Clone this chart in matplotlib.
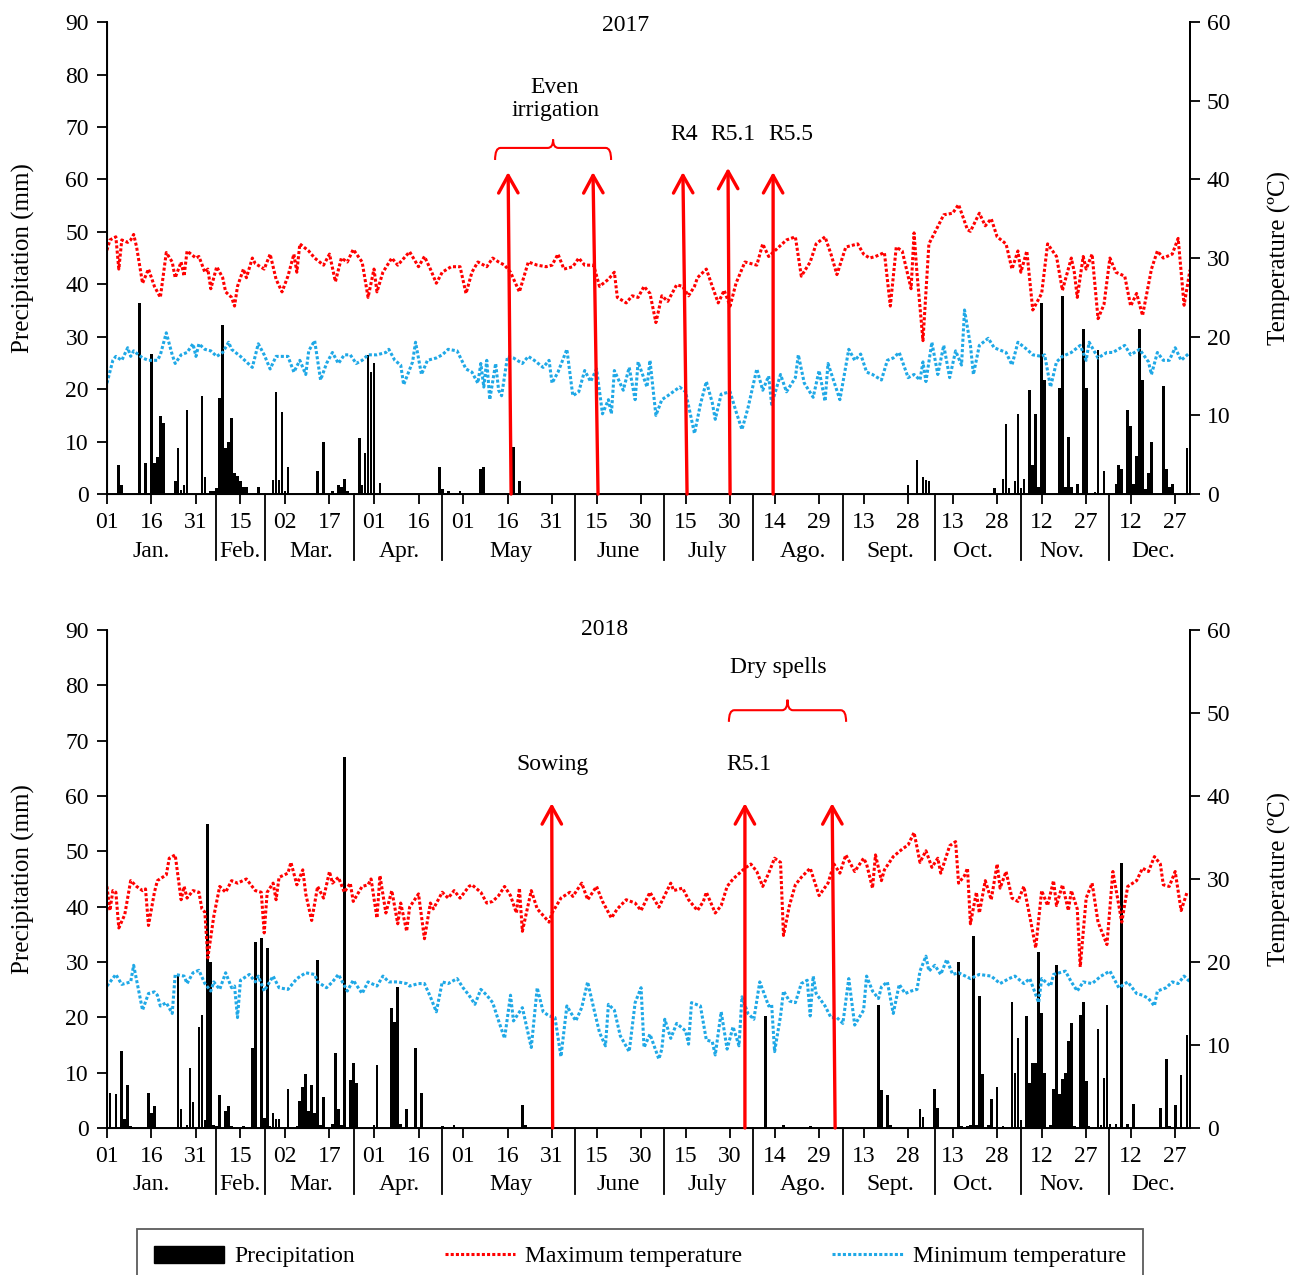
import numpy as np
import matplotlib.pyplot as plt
from matplotlib.path import Path
from matplotlib.patches import PathPatch, Patch
from matplotlib.lines import Line2D

plt.rcParams['font.family'] = ['Liberation Serif', 'DejaVu Serif']
plt.rcParams['font.size'] = 17

# x axis: day of year
tick_pos = np.arange(1, 366, 15)
tick_lab = ['01', '16', '31', '15', '02', '17', '01', '16', '01', '16', '31', '15', '30',
            '15', '30', '14', '29', '13', '28', '13', '28', '12', '27', '12', '27']
month_sep = [37.7, 54.2, 84.4, 113.8, 158.9, 188.8, 218.7, 248.9, 280.1, 309.0, 338.6]
month_pos = [16, 45.8, 69.8, 99.4, 137.2, 173.2, 203.2, 235.6, 264.9, 292.9, 322.9, 353.5]
month_lab = ['Jan.', 'Feb.', 'Mar.', 'Apr.', 'May', 'June', 'July', 'Ago.', 'Sept.',
             'Oct.', 'Nov.', 'Dec.']

# ---- 2017 ----  (day of year, value)
rain17 = [(5, 5.6), (6, 1.7), (12, 36.5), (14, 5.9), (16, 26.8), (17, 5.9), (18, 7.1),
          (19, 14.9), (20, 13.6), (24, 2.5), (25, 8.7), (26, 0.7), (27, 1.7), (28, 16.0),
          (33, 18.7), (34, 3.3), (36, 0.5), (37, 0.5), (38, 1.2), (39, 18.3), (40, 32.2),
          (41, 8.7), (42, 9.9), (43, 14.5), (44, 4.1), (45, 3.4), (46, 2.5), (47, 1.4),
          (48, 1.4), (52, 1.4), (57, 2.6), (58, 19.4), (59, 2.6), (60, 15.7), (61, 0.5),
          (62, 5.1), (72, 4.4), (74, 9.9), (77, 0.5), (79, 1.7), (80, 1.4), (81, 2.9),
          (82, 0.5), (86, 10.6), (87, 1.7), (88, 7.8), (89, 26.6), (90, 23.3), (91, 24.9),
          (93, 2.2), (113, 5.1), (114, 0.9), (116, 0.5), (120, 0.5), (127, 4.8), (128, 5.1),
          (138, 9.0), (140, 2.4), (271, 1.7), (274, 6.5), (276, 3.2), (277, 2.6), (278, 2.4),
          (300, 1.2), (303, 2.9), (304, 13.3), (305, 1.2), (307, 2.4), (308, 15.2),
          (309, 1.2), (310, 2.9), (312, 19.9), (313, 5.6), (314, 15.2), (315, 1.4),
          (316, 36.5), (317, 21.8), (322, 20.2), (323, 37.8), (324, 1.4), (325, 10.9),
          (326, 1.4), (328, 1.9), (330, 31.5), (331, 20.3), (334, 0.4), (335, 27.5),
          (337, 4.4), (341, 1.9), (342, 5.6), (343, 4.8), (345, 16.0), (346, 13.0),
          (347, 2.0), (348, 7.2), (349, 31.5), (350, 21.8), (351, 0.9), (352, 4.1),
          (353, 9.9), (357, 20.6), (358, 4.8), (359, 1.4), (360, 1.9), (365, 8.7)]

tmax17 = [(1, 31.0), (2, 32.3), (4, 32.7), (5, 28.6), (6, 32.3), (8, 32.0), (9, 32.3),
          (10, 33.0), (11, 31.4), (13, 26.8), (15, 28.6), (17, 26.4), (19, 25.0), (21, 30.7),
          (23, 29.5), (24, 27.5), (26, 29.5), (27, 27.7), (28, 30.9), (31, 30.0), (32, 30.2),
          (34, 28.2), (35, 28.6), (36, 26.1), (38, 28.9), (40, 27.5), (41, 25.7), (43, 25.0),
          (44, 23.9), (45, 26.4), (47, 28.6), (48, 27.5), (50, 30.0), (51, 29.3), (54, 28.6),
          (56, 30.5), (58, 27.3), (60, 25.7), (62, 27.7), (64, 30.5), (65, 28.2), (66, 31.8),
          (69, 30.9), (71, 30.0), (74, 29.1), (76, 30.5), (78, 27.0), (80, 30.0), (82, 29.5),
          (84, 31.1), (87, 29.5), (89, 25.0), (91, 28.6), (92, 25.7), (94, 28.2), (97, 30.0),
          (99, 29.1), (103, 30.8), (106, 28.9), (108, 30.2), (110, 28.6), (112, 26.8),
          (114, 28.2), (117, 28.9), (120, 28.9), (122, 25.5), (124, 28.2), (126, 29.5),
          (129, 28.9), (131, 30.0), (133, 29.5), (135, 29.1), (137, 28.2), (140, 25.7),
          (143, 29.5), (146, 29.1), (149, 28.9), (151, 29.1), (153, 30.5), (155, 28.6),
          (158, 28.9), (160, 30.0), (162, 29.1), (165, 29.1), (167, 26.4), (170, 27.3),
          (172, 28.2), (173, 25.0), (176, 24.3), (178, 25.2), (180, 25.0), (182, 26.4),
          (184, 25.5), (186, 21.8), (188, 25.2), (190, 24.5), (193, 26.6), (195, 26.4),
          (197, 25.2), (199, 26.4), (200, 27.5), (203, 28.6), (205, 26.4), (207, 24.3),
          (209, 25.9), (211, 23.9), (213, 26.8), (216, 29.5), (220, 29.1), (222, 31.8),
          (224, 30.2), (228, 31.6), (230, 32.3), (233, 32.7), (235, 27.7), (238, 29.5),
          (240, 31.8), (243, 32.7), (245, 30.5), (247, 27.9), (250, 31.4), (254, 31.8),
          (256, 30.5), (258, 30.0), (260, 30.2), (263, 30.7), (265, 23.9), (267, 31.4),
          (269, 30.9), (272, 26.1), (273, 33.2), (274, 28.0), (276, 19.5), (278, 31.8),
          (281, 34.0), (283, 35.5), (286, 35.7), (288, 36.8), (291, 33.6), (292, 33.4),
          (295, 35.7), (297, 34.1), (299, 35.0), (301, 32.7), (304, 31.8), (306, 28.6),
          (308, 30.9), (309, 28.2), (311, 30.9), (313, 23.4), (316, 25.5), (318, 31.8),
          (321, 30.2), (323, 25.9), (326, 30.0), (327, 28.2), (328, 25.0), (330, 30.2),
          (331, 28.6), (333, 30.5), (335, 22.3), (337, 24.1), (339, 30.0), (341, 28.2),
          (344, 27.7), (346, 23.9), (348, 25.5), (350, 22.7), (353, 28.6), (355, 30.9),
          (357, 30.0), (360, 30.5), (362, 32.5), (364, 24.0), (366, 28.5)]

tmin17 = [(1, 14.1), (3, 17.0), (4, 17.5), (6, 17.0), (8, 18.6), (9, 17.5), (10, 18.2),
          (13, 17.3), (15, 17.0), (18, 17.0), (19, 17.7), (21, 20.5), (23, 17.7), (24, 16.6),
          (26, 17.7), (28, 18.0), (30, 19.1), (31, 17.5), (32, 19.1), (34, 18.4), (36, 18.2),
          (38, 17.5), (40, 18.0), (42, 19.3), (43, 18.4), (46, 17.5), (48, 16.8), (50, 16.1),
          (52, 19.1), (54, 17.7), (56, 15.9), (58, 17.5), (60, 17.5), (62, 17.5), (64, 15.5),
          (66, 17.0), (68, 15.2), (69, 18.2), (71, 19.5), (73, 14.5), (75, 16.6), (77, 18.0),
          (79, 16.6), (81, 17.7), (83, 17.7), (85, 16.6), (87, 17.0), (89, 17.7), (92, 17.7),
          (95, 18.0), (96, 18.4), (98, 17.0), (100, 16.4), (101, 13.9), (104, 16.8),
          (105, 19.3), (107, 15.2), (109, 17.0), (112, 17.3), (114, 17.7), (116, 18.4),
          (119, 18.2), (122, 15.9), (124, 15.5), (126, 14.1), (127, 16.6), (128, 13.6),
          (129, 17.0), (130, 12.0), (132, 16.6), (133, 13.2), (134, 12.5), (136, 17.5),
          (138, 17.3), (141, 16.6), (143, 17.5), (145, 17.0), (148, 16.1), (150, 17.0),
          (151, 14.1), (153, 15.5), (156, 18.4), (158, 12.5), (160, 13.0), (162, 15.7),
          (164, 14.3), (166, 15.9), (168, 10.2), (170, 12.0), (171, 10.2), (172, 15.7),
          (175, 13.2), (177, 16.1), (179, 12.0), (180, 16.8), (183, 13.6), (184, 17.0),
          (186, 10.0), (188, 12.0), (190, 12.5), (194, 13.6), (196, 13.0), (199, 7.7),
          (201, 11.4), (203, 14.3), (205, 11.6), (206, 9.5), (208, 12.7), (211, 13.0),
          (213, 10.5), (215, 8.2), (217, 10.9), (220, 15.9), (222, 13.2), (224, 15.0),
          (225, 11.4), (228, 15.2), (230, 13.0), (233, 14.8), (234, 17.7), (236, 14.1),
          (239, 12.3), (241, 15.7), (243, 11.8), (244, 16.6), (248, 12.0), (251, 18.4),
          (253, 17.0), (255, 17.8), (257, 15.5), (259, 15.2), (262, 14.5), (264, 17.0),
          (266, 17.3), (268, 18.0), (271, 14.8), (273, 15.2), (275, 14.5), (276, 16.8),
          (277, 14.3), (279, 19.3), (281, 15.2), (283, 18.9), (285, 14.8), (287, 18.2),
          (289, 16.4), (290, 23.4), (292, 18.9), (293, 15.2), (295, 18.9), (298, 19.8),
          (300, 18.6), (304, 18.0), (306, 16.4), (308, 19.3), (311, 18.4), (313, 17.7),
          (316, 17.5), (317, 17.7), (319, 13.6), (321, 16.8), (323, 17.5), (326, 18.0),
          (329, 18.9), (331, 17.0), (332, 19.3), (335, 17.3), (338, 18.0), (340, 18.0),
          (344, 18.9), (346, 17.7), (349, 18.4), (352, 16.8), (353, 15.2), (355, 18.0),
          (357, 17.0), (359, 17.0), (361, 18.6), (363, 17.0), (366, 18.0)]

# ---- 2018 ----
rain18 = [(1, 37.6), (2, 6.4), (4, 6.1), (6, 14.0), (7, 1.7), (8, 7.8), (9, 0.3), (15, 6.4),
          (16, 2.7), (17, 3.9), (25, 27.7), (26, 3.4), (28, 0.5), (29, 10.8), (30, 4.7),
          (32, 18.3), (33, 20.5), (34, 1.4), (35, 55.0), (36, 30.0), (37, 0.5), (38, 0.3),
          (39, 6.0), (41, 3.0), (42, 3.9), (43, 0.3), (47, 0.3), (50, 14.4), (51, 33.6),
          (53, 34.3), (54, 1.8), (55, 32.6), (56, 0.3), (57, 2.7), (58, 1.6), (59, 1.6),
          (62, 7.1), (65, 0.3), (66, 4.9), (67, 7.4), (68, 9.7), (69, 3.0), (70, 7.8),
          (71, 2.7), (72, 30.3), (73, 0.5), (74, 5.6), (77, 0.8), (78, 13.5), (79, 3.4),
          (80, 0.5), (81, 67.1), (83, 8.6), (84, 11.8), (85, 8.1), (91, 0.5), (92, 11.4),
          (97, 21.7), (98, 19.1), (99, 25.4), (100, 0.8), (102, 3.4), (105, 14.4), (107, 6.4),
          (114, 0.3), (118, 0.5), (141, 4.2), (142, 0.5), (223, 20.3), (229, 0.5), (238, 0.3),
          (261, 22.3), (262, 6.8), (264, 6.0), (265, 0.5), (275, 3.4), (276, 1.9), (280, 7.1),
          (281, 3.7), (288, 30.0), (289, 0.3), (291, 0.3), (292, 0.5), (293, 34.7), (294, 0.5),
          (295, 23.9), (296, 9.7), (298, 0.5), (299, 5.2), (301, 7.4), (303, 0.3), (306, 22.7),
          (307, 9.9), (308, 16.2), (309, 1.4), (311, 20.2), (312, 8.1), (313, 11.8),
          (314, 11.8), (315, 31.8), (316, 20.8), (317, 9.9), (319, 0.5), (320, 7.1),
          (321, 29.4), (322, 6.2), (323, 8.8), (324, 9.9), (325, 15.8), (326, 18.9),
          (327, 0.3), (329, 20.5), (330, 22.7), (331, 8.5), (332, 0.3), (335, 17.9),
          (336, 0.5), (337, 9.1), (338, 22.3), (339, 0.8), (341, 0.8), (343, 47.8), (345, 0.8),
          (347, 4.4), (356, 3.7), (358, 12.5), (359, 0.3), (361, 4.1), (363, 9.5), (365, 16.8)]

tmax18 = [(1, 29.1), (2, 26.2), (3, 28.6), (4, 28.4), (5, 24.1), (7, 25.7), (9, 29.8),
          (11, 29.1), (13, 28.6), (14, 28.8), (15, 24.4), (17, 28.4), (18, 29.8), (21, 30.5),
          (22, 32.5), (24, 32.9), (26, 27.5), (27, 29.1), (28, 27.7), (30, 28.6), (32, 28.4),
          (33, 26.4), (34, 26.0), (35, 20.5), (37, 25.5), (39, 29.1), (41, 28.4), (43, 29.8),
          (45, 29.5), (48, 30.0), (51, 28.6), (53, 28.4), (54, 23.5), (55, 28.4), (57, 29.5),
          (58, 27.5), (59, 30.2), (62, 30.7), (63, 32.0), (65, 29.3), (67, 31.1), (68, 28.2),
          (70, 25.0), (72, 29.1), (74, 27.7), (76, 30.9), (77, 29.5), (79, 30.2), (81, 28.4),
          (83, 29.5), (84, 27.3), (87, 29.1), (89, 29.3), (90, 30.0), (92, 25.3), (93, 30.4),
          (95, 25.9), (97, 28.6), (99, 24.6), (100, 27.1), (102, 23.7), (103, 26.6),
          (106, 28.2), (108, 22.8), (110, 27.1), (111, 26.4), (114, 28.4), (116, 27.7),
          (118, 28.6), (120, 27.7), (123, 29.1), (124, 29.3), (127, 28.4), (129, 27.1),
          (131, 27.3), (133, 28.0), (135, 29.1), (137, 28.0), (139, 25.9), (140, 28.9),
          (141, 23.7), (144, 28.6), (146, 26.4), (150, 24.8), (151, 25.9), (154, 27.7),
          (157, 28.4), (158, 27.9), (161, 29.5), (163, 27.5), (166, 29.1), (168, 27.3),
          (171, 25.3), (173, 26.4), (176, 27.5), (179, 27.1), (181, 26.2), (184, 28.4),
          (187, 26.6), (191, 29.5), (192, 28.6), (195, 28.9), (197, 27.5), (200, 26.2),
          (202, 27.3), (203, 28.4), (206, 25.9), (208, 26.8), (210, 29.1), (212, 30.0),
          (216, 31.3), (218, 31.8), (220, 30.9), (222, 29.1), (224, 30.7), (226, 32.5),
          (228, 32.0), (229, 23.2), (231, 26.8), (233, 29.3), (235, 30.2), (238, 31.3),
          (241, 28.0), (244, 29.5), (246, 31.8), (248, 30.7), (250, 32.9), (253, 30.9),
          (256, 32.5), (257, 31.8), (259, 28.9), (260, 32.9), (262, 29.8), (263, 31.1),
          (266, 32.7), (269, 33.6), (271, 34.1), (273, 35.6), (275, 32.0), (277, 33.4),
          (279, 31.4), (281, 32.5), (282, 30.7), (285, 34.0), (287, 34.5), (288, 29.5),
          (290, 30.4), (291, 31.3), (292, 24.6), (294, 28.4), (295, 25.9), (297, 29.8),
          (299, 27.5), (301, 31.8), (302, 28.9), (304, 30.9), (306, 27.7), (308, 27.3),
          (310, 29.1), (312, 25.5), (314, 21.7), (316, 28.6), (318, 26.8), (320, 29.8),
          (321, 26.8), (323, 29.3), (325, 26.2), (326, 28.6), (328, 26.4), (329, 19.4),
          (331, 27.7), (333, 29.5), (335, 24.8), (338, 22.1), (340, 30.9), (343, 24.8),
          (345, 29.1), (348, 29.8), (350, 31.3), (352, 30.9), (354, 32.7), (356, 31.8),
          (357, 29.3), (359, 29.1), (361, 30.9), (363, 26.2), (365, 28.4)]

tmin18 = [(1, 17.1), (4, 18.5), (6, 17.3), (9, 17.6), (10, 19.6), (13, 14.2), (15, 16.2),
          (17, 16.4), (18, 16.0), (19, 14.7), (21, 15.1), (23, 13.8), (24, 18.5), (27, 18.3),
          (28, 17.4), (30, 18.7), (32, 19.0), (34, 17.4), (36, 16.5), (37, 17.6), (39, 16.7),
          (41, 18.7), (43, 16.9), (44, 17.1), (45, 13.3), (46, 17.8), (49, 18.5), (51, 17.6),
          (52, 18.3), (54, 16.5), (57, 18.3), (59, 16.9), (62, 16.7), (65, 18.0), (68, 18.7),
          (71, 18.5), (72, 17.6), (75, 16.9), (77, 17.6), (79, 18.5), (82, 16.5), (84, 17.8),
          (87, 16.2), (89, 17.6), (92, 17.1), (94, 18.3), (96, 17.6), (99, 17.6), (102, 17.4),
          (103, 17.1), (106, 17.4), (108, 17.4), (110, 15.8), (112, 14.0), (114, 17.6),
          (116, 17.4), (119, 18.0), (121, 16.9), (123, 16.0), (125, 14.9), (127, 16.7),
          (129, 16.0), (131, 15.1), (133, 12.9), (135, 10.8), (137, 16.0), (138, 12.9),
          (141, 14.5), (144, 9.7), (146, 16.9), (148, 14.0), (150, 13.5), (152, 13.3),
          (154, 8.6), (156, 14.7), (159, 12.9), (161, 14.5), (163, 17.6), (165, 14.5),
          (167, 11.5), (169, 9.9), (170, 14.9), (172, 14.2), (174, 11.1), (177, 9.2),
          (179, 15.1), (181, 16.9), (182, 9.7), (184, 11.3), (187, 8.3), (188, 9.5),
          (189, 13.1), (191, 10.8), (193, 12.6), (196, 11.7), (197, 10.1), (198, 15.1),
          (201, 14.7), (203, 10.6), (205, 10.4), (206, 8.8), (208, 14.0), (210, 9.5),
          (212, 12.2), (214, 9.9), (215, 15.8), (217, 13.8), (219, 13.1), (221, 17.6),
          (224, 14.7), (225, 14.9), (226, 9.2), (228, 13.5), (229, 16.5), (231, 15.3),
          (233, 15.1), (235, 17.4), (237, 17.8), (238, 13.5), (239, 18.3), (240, 16.2),
          (243, 14.7), (245, 13.3), (247, 13.3), (249, 12.6), (251, 18.0), (253, 12.4),
          (256, 14.2), (257, 18.3), (259, 16.5), (261, 15.6), (262, 17.0), (264, 17.6),
          (266, 13.8), (268, 17.3), (270, 16.2), (272, 16.5), (274, 16.7), (275, 18.9),
          (277, 20.7), (278, 18.9), (280, 19.6), (282, 18.5), (284, 20.3), (286, 18.5),
          (288, 18.7), (292, 18.0), (295, 18.5), (299, 18.3), (302, 17.4), (305, 18.0),
          (307, 18.3), (310, 17.4), (312, 18.0), (315, 15.1), (316, 18.0), (319, 17.1),
          (320, 18.5), (324, 18.9), (326, 17.6), (328, 16.5), (330, 17.6), (333, 17.4),
          (336, 18.3), (339, 18.9), (342, 16.9), (345, 17.6), (348, 16.2), (350, 16.0),
          (352, 15.6), (354, 14.7), (355, 16.5), (358, 16.9), (360, 17.6), (362, 17.4),
          (364, 18.3), (366, 17.6)]

# stage arrows: (day at base, day at tip, tip height in mm)
arrows17 = [(137.2, 136.2, 61.4), (166.5, 164.8, 61.4), (196.5, 195.1, 61.4),
            (211.0, 210.3, 62.2), (225.5, 225.5, 61.4)]
arrows18 = [(151.2, 150.9, 58.7), (216.0, 216.0, 58.7), (246.4, 245.4, 58.7)]

RED = '#ff0000'
BLUE = '#1fa8e6'
dots = (0, (1, 0.7))

fig = plt.figure(figsize=(12.9, 12.75), dpi=100)
ax_a = fig.add_axes([0.0829, 0.6125, 0.8396, 0.3702])
ax_b = fig.add_axes([0.0829, 0.1153, 0.8396, 0.3906])


def brace(ax, tr, x0, x1, y0, y1, y2, r=1.8):
    xc = (x0 + x1) / 2
    verts = [(x0, y0), (x0, y1), (x0 + r, y1), (xc - r, y1), (xc, y1), (xc, y2),
             (xc, y1), (xc + r, y1), (x1 - r, y1), (x1, y1), (x1, y0)]
    codes = [Path.MOVETO, Path.CURVE3, Path.CURVE3, Path.LINETO, Path.CURVE3, Path.CURVE3,
             Path.CURVE3, Path.CURVE3, Path.LINETO, Path.CURVE3, Path.CURVE3]
    ax.add_patch(PathPatch(Path(verts, codes), fill=False, edgecolor=RED, lw=1.5,
                           transform=tr, clip_on=False))


def panel(ax, rain, tmax, tmin, arrows):
    d, v = zip(*rain)
    ax.bar(d, v, width=0.9, color='black', zorder=2)
    ax.set_xlim(1, 366)
    ax.set_ylim(0, 90)
    ax.set_yticks(range(0, 91, 10))
    ax.set_xticks(tick_pos)
    ax.set_xticklabels(tick_lab)
    ax.tick_params(direction='out', length=7, width=1.3, pad=6, colors='black')
    ax.spines['top'].set_visible(False)
    for s in ['left', 'bottom', 'right']:
        ax.spines[s].set_linewidth(1.4)
    ax.set_ylabel('Precipitation (mm)', labelpad=22, fontsize=18)

    ax2 = ax.twinx()
    ax2.set_ylim(0, 60)
    ax2.set_yticks(range(0, 61, 10))
    d, v = zip(*tmax)
    ax2.plot(d, v, color=RED, lw=2.2, ls=dots)
    d, v = zip(*tmin)
    ax2.plot(d, v, color=BLUE, lw=2.2, ls=dots)
    ax2.tick_params(direction='out', length=7, width=1.3, pad=5)
    ax2.spines['top'].set_visible(False)
    ax2.spines['right'].set_linewidth(1.4)
    ax2.set_ylabel('Temperature (ºC)', labelpad=27, fontsize=18)

    hpx = ax.get_position().height * fig.get_figheight() * fig.dpi
    for s in month_sep:
        ax.axvline(s, ymin=-66 / hpx, ymax=0, color='black', lw=1.3, clip_on=False)
    for p, m in zip(month_pos, month_lab):
        ax.annotate(m, (p, 0), xycoords=('data', 'axes fraction'), xytext=(0, -41),
                    textcoords='offset points', ha='center', va='center')

    for xb, xt, yt in arrows:
        ax2.annotate('', xy=(xt, yt), xycoords=ax.transData, xytext=(xb, 0),
                     textcoords=ax.transData,
                     arrowprops=dict(arrowstyle='->,head_length=0.9,head_width=0.5',
                                     color=RED, lw=2.4, mutation_scale=14,
                                     shrinkA=0, shrinkB=0))
    return ax2


a2 = panel(ax_a, rain17, tmax17, tmin17, arrows17)
b2 = panel(ax_b, rain18, tmax18, tmin18, arrows18)

# annotations 2017
a2.text(175.9, 89.4, '2017', transform=ax_a.transData, ha='center', va='center')
a2.text(152, 75.3, 'Even\nirrigation', transform=ax_a.transData, ha='center', va='center',
        linespacing=1.1)
brace(a2, ax_a.transData, 131.8, 170.9, 63.7, 66.0, 67.6)
for x, s in [(195.5, 'R4'), (212.0, 'R5.1'), (231.5, 'R5.5')]:
    a2.text(x, 68.6, s, transform=ax_a.transData, ha='center', va='center')

# annotations 2018
b2.text(168.8, 90, '2018', transform=ax_b.transData, ha='center', va='center')
b2.text(227.2, 83.3, 'Dry spells', transform=ax_b.transData, ha='center', va='center')
brace(b2, ax_b.transData, 210.6, 250.1, 73.4, 75.5, 77.4)
b2.text(151.3, 65.6, 'Sowing', transform=ax_b.transData, ha='center', va='center')
b2.text(217.4, 65.6, 'R5.1', transform=ax_b.transData, ha='center', va='center')

handles = [Patch(facecolor='black', edgecolor='black'),
           Line2D([], [], color=RED, lw=2.2, ls=dots),
           Line2D([], [], color=BLUE, lw=2.2, ls=dots)]
leg = fig.legend(handles, ['Precipitation', 'Maximum temperature', 'Minimum temperature'],
                 loc='center', bbox_to_anchor=(0.496, 0.0145), ncol=3, frameon=True,
                 fancybox=False, edgecolor='#333333', handlelength=3.0, handleheight=0.75,
                 handletextpad=0.42, columnspacing=3.8, borderpad=0.7, fontsize=17)
leg.get_frame().set_linewidth(1.3)

fig.savefig('out.png', dpi=100)
